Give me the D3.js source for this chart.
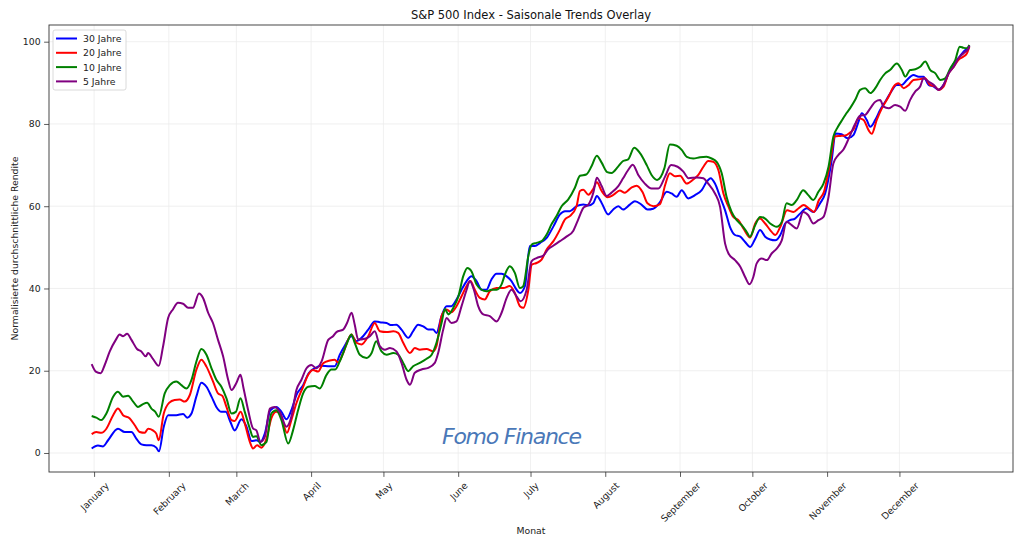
<!DOCTYPE html>
<html>
<head>
<meta charset="utf-8">
<script src="https://cdn.jsdelivr.net/npm/d3@7"></script>
<style>
  body { margin: 0; background: #fff; }
  text { font-family: "DejaVu Sans", sans-serif; }
</style>
</head>
<body>
<script>
'use strict';

// month ticks (day index of each month start)
let monthNames = ['January', 'February', 'March', 'April', 'May', 'June',
  'July', 'August', 'September', 'October', 'November', 'December'];
let monthDays = [1, 32, 60, 91, 121, 152, 182, 213, 244, 274, 305, 335];
let yTicks = [0, 20, 40, 60, 80, 100];

let seriesNames = ['30 Jahre', '20 Jahre', '10 Jahre', '5 Jahre'];

// [day, value]
let jahre30 = [[0,1.1],[2.6,1.8],[4.7,1.6],[6.8,3.1],[10.9,5.9],[13.7,5.1],[16.5,5.1],[18.5,3.5],[20.6,2.1],[22.7,1.9],[24.8,1.9],[26.8,1.3],[27.9,0.4],[29.9,6.4],[31.7,9.2],[35.1,9.2],[37.9,9.5],[39.6,8.6],[41.4,9.6],[43.4,13.7],[45.5,17.1],[47.6,16.1],[49.7,13.7],[51.7,11.2],[53.8,10],[55.6,10],[57.5,7.6],[59.3,5.5],[62.1,8.2],[64.2,6.4],[66.3,2.9],[68.3,3.1],[70,2.7],[71.8,4.7],[74.1,10.4],[76.6,11.2],[78.7,10],[80.8,8.2],[82.8,10.4],[84.9,14.1],[87.7,16.5],[90,19.4],[92.5,20.6],[95,21.2],[98.8,21.1],[100.8,21.1],[102.9,23.9],[104.9,26],[107.7,28.4],[109.8,27.2],[111.9,28],[114.7,30],[117.4,32],[119.5,31.8],[122.3,31.6],[124.3,31.1],[126.4,31.2],[128.5,30],[131.3,28],[133.3,29.6],[135.4,31.2],[137.5,30.8],[139.6,30],[141.6,30],[143,29.2],[145.1,33.3],[147.2,35.7],[149.2,35.7],[151.3,37.3],[153.4,39.7],[155.5,41.8],[157.5,43],[159.6,41.8],[161.7,39.7],[163.7,39.7],[165.8,42.2],[167.9,43.6],[170,43.6],[172,43],[174.1,41.8],[176.2,39.7],[177.6,38.9],[179.7,40.6],[181.7,50.3],[183.8,50.3],[186,51.1],[188.7,52.3],[191.5,55.1],[194.2,58],[196.3,58.8],[198.3,58.8],[201.1,60],[203.9,60.4],[206,60.2],[208.1,60.8],[209.5,62.5],[211.5,60.8],[214.2,58],[216.3,59.2],[218.4,60],[220.4,59.2],[223.2,60.4],[225.3,61.2],[228,60.4],[230.5,59.2],[232.9,59.4],[235.7,61],[238.5,63.5],[240.5,63.1],[242.6,62.3],[244.7,63.9],[247.4,61.9],[250.2,62.7],[253,63.9],[255,65.9],[256.7,66.8],[258.5,65.5],[260.6,62.3],[262.7,59],[264.7,55],[266.8,53],[269,52.6],[271,51.3],[273.1,50.1],[275.2,52.1],[277.2,54.2],[279.3,52.6],[281.4,51.9],[283.5,51.7],[285.6,53],[287.6,55.8],[289.6,56.6],[291.7,57],[293.8,58.2],[296.6,59.5],[299.3,58.6],[302.1,60.7],[304.2,63.1],[306.9,71.2],[308.5,77.7],[311,77.5],[313.5,76.5],[315.9,77.3],[318,80.5],[319.4,82.6],[321.4,81],[322.9,79.3],[325,81],[327,83.4],[329.1,85.4],[331.1,87.4],[333.9,89.5],[336,89.5],[338.1,90.7],[340.8,91.9],[343,91.5],[345,91.5],[347.1,89.5],[349.2,89.1],[351.2,88.3],[353.3,89.5],[355.4,92.3],[357.5,94.7],[359.5,96],[361.6,97.6],[363.7,98.7],[364,99]];

let jahre20 = [[0,4.6],[1.9,5.1],[4,4.9],[6.1,5.9],[8.9,9.2],[10.9,10.8],[13,9.2],[15.8,8.4],[17.8,6.8],[19.9,5.1],[22,4.9],[23.4,5.9],[25.4,5.5],[26.8,4.7],[27.8,3.1],[29.9,9.6],[32.1,12.2],[34.4,12.9],[36.5,13],[38.6,12.5],[40.7,14.1],[43.4,20.2],[45.5,22.7],[47.6,21],[50.3,17.4],[52.4,14.5],[54.2,13.9],[55.9,11.2],[58,8],[59.3,7.8],[61.8,10],[63.5,7.2],[65.6,2.7],[66.9,1.1],[68.6,1.9],[70.4,1.3],[72.5,3.5],[74.5,8.4],[76.6,10],[78.7,8.8],[81,4.9],[82.8,8],[84.9,12.1],[87.7,16.1],[89.8,19],[91.8,20.2],[93.9,19.8],[96,21.8],[98.8,22.5],[100.8,22.7],[102.2,22],[104.3,24.3],[107.7,28.8],[109.8,26.8],[111.9,26.4],[114.7,28.4],[117.4,31.6],[119.5,29.6],[122.3,29.4],[125.1,29.6],[127.1,29.2],[129.2,26.8],[132,24.3],[134,25.5],[136.1,25.1],[138.9,25.3],[141.6,24.7],[143,26],[145.1,33.3],[147.2,34.9],[149.2,34.2],[151.3,35.7],[153.4,38.1],[155.5,40.6],[157.1,41.8],[158.9,39.7],[161,37.7],[163,37.3],[165.1,39.3],[167.9,40.1],[170.7,40.1],[173.4,40.6],[175.5,38.9],[177.6,35.7],[179,35.3],[181.1,39.7],[182.5,45.8],[184.5,46.2],[186.6,47],[188.7,49.5],[191.5,51.5],[194.2,54.3],[196.3,56.8],[198.3,57.6],[201.1,60],[202.5,63.7],[203.9,64],[206,62.8],[208.1,64.3],[209.5,65.8],[211.5,63.7],[214,62.2],[216.5,62.8],[219,63.8],[221.1,63.3],[224,64.6],[226,65],[228.5,63.4],[230.5,60.7],[233,60],[235.7,60.5],[237.8,65.1],[239.8,68],[241.9,67.3],[244,67.4],[246.8,65.5],[249.5,66.5],[251.6,67.6],[253.7,69.6],[255.7,71],[257.8,70.8],[259.9,68.8],[262,63.1],[264.1,59.9],[266.1,57.4],[268.2,56.6],[270.3,54.6],[273.1,52.4],[275.2,55.8],[277.2,57],[279.3,55.8],[281.4,54.2],[283.5,53],[285.6,55],[288.4,59],[291.1,58.6],[293.2,59.5],[295.3,60.3],[297.4,59.5],[299.6,58.6],[301.6,61.5],[303.7,63.5],[306.2,70.4],[308.3,77],[310.4,77.1],[312.5,77.2],[314.5,77.9],[316,78.7],[318,81.4],[320.1,81],[322.2,78.5],[323.5,77.6],[325.6,81],[327.7,83.8],[330.5,86.6],[332.6,89.1],[334.6,89.9],[336.8,88.7],[338.9,89.5],[340.8,90.7],[343.6,90.9],[345.6,91.1],[347.7,89.5],[349.8,89.1],[351.2,88.3],[353.3,89.1],[355.4,92.3],[357.5,93.9],[359.5,95.6],[361.6,96.4],[363,97.2],[364,98.8]];

let jahre10 = [[0,9],[1.9,8.6],[4,8],[6.1,9.6],[8.9,13.7],[10.9,14.9],[13,13.7],[15.1,13.9],[17.2,12.5],[19.2,11.2],[21.3,11.9],[23,12.2],[24.8,10.8],[26.4,10],[27.8,8.8],[30.3,14.5],[32.4,16.5],[35.1,17.4],[37.2,16.5],[39.3,15.7],[41.4,17.8],[43.4,22.2],[45.5,25.3],[47.6,23.9],[49.7,20.6],[51.7,17.8],[53.8,16.1],[55.9,13.3],[58,9.6],[59.8,10],[61.7,13.3],[63.5,10],[65.6,5.9],[66.9,3.9],[68.3,4.1],[70.4,1.9],[72.5,2.7],[74.5,9.6],[76.6,10.4],[78.7,8],[81.5,2.3],[83.5,5.5],[85.6,10.4],[87.7,14.5],[89.8,16.1],[92.5,16.3],[94.6,15.7],[97.4,19],[99.4,20.3],[101,20.3],[102.9,22.3],[105.7,26.4],[107.7,28.8],[109.1,26.8],[111.2,23.9],[114,23.1],[116.1,24.3],[118,27.2],[120.2,24.7],[122.3,23.9],[125.1,24.3],[127.1,23.9],[129.2,21.9],[131.3,19.9],[133.3,21.1],[136.1,21.9],[138.9,22.9],[141,23.9],[143,26.8],[145.1,31.6],[146.5,35],[147.9,33.7],[150,35.3],[152.1,38.1],[154.1,43],[155.8,45],[157.5,44.2],[159.6,41],[161.7,39.7],[163.7,39.3],[165.8,39.7],[167.9,39.7],[170,41],[171.4,43.4],[173.4,45.4],[175.5,43.8],[177.6,40.1],[179,40.6],[181.1,47.9],[182.5,50.7],[184.5,51.1],[186.6,51.5],[188.7,53.1],[190.7,55.6],[192.8,57.6],[194.9,60],[197.6,61.6],[200.4,64.5],[202.5,67.4],[205.1,67.7],[207.3,69.7],[209.5,72.3],[211.5,70.6],[213.8,68.3],[215.6,68.1],[218.4,69.7],[220.4,71],[222.5,71.4],[225,74.2],[227.4,72.9],[230.2,70],[232.2,67.6],[234.5,66.4],[237.5,69.2],[239.8,75],[242.6,74.7],[244.7,73.7],[246.8,72],[249.5,71.6],[252.3,71.9],[255,72],[257.1,71.6],[259.2,70.8],[261.3,68],[263.3,62.3],[265.4,58.6],[267.5,56.6],[269.6,55.4],[271.6,53.8],[273,52.6],[275.2,55.4],[277.2,57.4],[279.3,57],[281.4,55.8],[284.1,55],[286.2,56.2],[288.2,60.7],[290.3,60.3],[292.4,61.5],[295.1,63.9],[297.2,62.7],[299.3,61.5],[301.4,63.5],[303.5,65.5],[305.6,69.6],[307.6,76.9],[309.5,79.3],[311.5,81.2],[313,82.6],[314.5,83.8],[316.6,85.8],[318.7,88.3],[320.8,88.7],[322.9,87.5],[325,88.7],[327,90.7],[329.1,92.3],[331.1,93.1],[333.9,94.7],[336,93.1],[337.4,91.5],[339.4,93.1],[341.6,93.3],[343.6,93.9],[345.7,95.2],[347.8,93.1],[349.9,92.3],[352,90.7],[354,91.1],[356.1,93.5],[358.2,95.6],[360,98.8],[361.6,98.5],[363,98.4],[364,99.2]];

let jahre5 = [[0,21.6],[1.7,19.8],[3.7,19.4],[5.4,21.4],[7.5,24.7],[10,27.5],[11.6,28.8],[13,28.4],[14.7,29],[16.5,27.5],[18.8,25.3],[20.6,24.7],[22.4,23.5],[23.4,24.3],[25.4,22.9],[27.8,21.2],[29.6,25.9],[31.7,32.8],[33.7,34.9],[35.8,36.5],[37.9,36.3],[40,35.3],[42,35.3],[44.5,38.8],[46.2,37.7],[48.3,34.1],[50.3,31.6],[52.4,27.5],[54.5,23.5],[56.6,17.8],[58,15.3],[60,17],[61.7,19],[63,15.7],[64.9,10.4],[66.9,6],[68.3,5.5],[70,2.7],[71.8,3.9],[73.9,10.8],[75.9,11.2],[78,10],[80.8,6.4],[82.8,8.8],[84.9,15.3],[87,17.8],[89.1,20.6],[91.1,21.4],[93.2,20.6],[95.3,22.2],[98.1,27.5],[100.1,28.4],[101.5,29.4],[104.3,30],[105.9,31.6],[107.8,34.1],[109.1,31.2],[110.5,27.6],[113.3,27.8],[115.4,28.4],[117.4,29.6],[119.5,26],[121.6,25.1],[123.7,25.5],[126.4,24.7],[128.5,21.9],[130.6,17.8],[132,16.6],[134,19.5],[136.8,20.3],[139.6,20.7],[142.3,21.9],[143.7,24.3],[145.8,30],[147.2,32.8],[149.2,31.6],[151.3,32],[153.4,35.7],[155.5,39.7],[156.8,41.8],[158.5,39.7],[160.3,35.7],[162.4,33.7],[165.1,33.3],[167.9,32],[170,34.1],[172.1,37.7],[174.1,39.7],[176.2,38.1],[177.9,36.9],[180.4,39.7],[182.4,46.6],[184.5,47.4],[187.3,48],[189.3,49.5],[191.4,50.4],[194.2,51.5],[196.9,52.6],[199.7,54],[201.8,56.8],[203.9,59.6],[206,60.4],[208.1,63.4],[209.5,66.9],[211.5,64.9],[213.6,62.5],[215.6,63.3],[218.4,64.9],[220.4,66.8],[222.5,68.8],[224.4,70.1],[226.7,67.6],[229.4,65.5],[232.2,64.3],[235,64.3],[237.8,67.2],[240.3,70],[243,69.6],[245.4,68.4],[247.5,66.8],[250.9,67],[253.7,66.8],[255.7,65.5],[258.5,63.1],[260.6,59.9],[262.7,50.9],[264.1,48.5],[266.8,46.9],[269,45.3],[271,42.8],[272.8,41],[274.4,42.8],[275.8,46.1],[277.9,47.3],[280,46.9],[282,48.5],[284.1,49.7],[286.2,51.7],[288.2,56.2],[290.3,55.4],[292.4,54.6],[295.1,58.6],[297.2,57.8],[299.3,55.8],[301.4,56.6],[303.5,57.4],[305.6,62.3],[307.6,70.4],[309.7,72.5],[311.8,73.8],[314,76.5],[316.6,80],[318.7,82],[320.8,82.2],[322.9,83.8],[325,85.4],[327,85.8],[328.4,84.2],[330.5,83.8],[333.2,84.6],[335.3,84.2],[337.4,83.2],[339.4,85.8],[341.6,87.9],[343.6,89.1],[345,91.1],[347.1,90.3],[349.2,89.5],[351.2,88.3],[353.3,89.5],[355.4,92.3],[357.5,93.9],[359.5,96],[361.6,97.2],[363.7,98.4],[364,99]];

let seriesValues = [jahre30, jahre20, jahre10, jahre5];
let seriesColors = ['#0000ff', '#ff0000', '#008000', '#800080'];

let width = 1024;
let height = 546;
let plotL = 49, plotR = 1013, plotT = 25, plotB = 472;

let x = d3.scaleLinear().domain([-17.7, 382.1]).range([plotL, plotR]);
let y = d3.scaleLinear().domain([-4.62, 104.06]).range([plotB, plotT]);

let svg = d3.select('body').append('svg')
    .attr('width', width)
    .attr('height', height);

// grid
svg.append('g').selectAll('line')
  .data(monthDays)
  .enter().append('line')
    .attr('x1', d => x(d)).attr('x2', d => x(d))
    .attr('y1', plotT).attr('y2', plotB)
    .attr('stroke', '#ececec').attr('stroke-width', 0.8);
svg.append('g').selectAll('line')
  .data(yTicks)
  .enter().append('line')
    .attr('x1', plotL).attr('x2', plotR)
    .attr('y1', d => y(d)).attr('y2', d => y(d))
    .attr('stroke', '#ececec').attr('stroke-width', 0.8);

// lines
let line = d3.line()
    .x(d => x(d[0]))
    .y(d => y(d[1]))
    .curve(d3.curveMonotoneX);

svg.append('g').selectAll('path')
  .data(seriesValues)
  .enter().append('path')
    .attr('d', line)
    .attr('fill', 'none')
    .attr('stroke', (d, i) => seriesColors[i])
    .attr('stroke-width', 2)
    .attr('stroke-linejoin', 'round');

// axes
let xAxis = svg.append('g')
    .attr('transform', `translate(0,${plotB})`)
    .call(d3.axisBottom(x).tickValues(monthDays)
      .tickFormat((d, i) => monthNames[i]).tickSize(4.9).tickPadding(3.5));
let yAxis = svg.append('g')
    .attr('transform', `translate(${plotL},0)`)
    .call(d3.axisLeft(y).tickValues(yTicks).tickSize(4.9).tickPadding(3.5));

[xAxis, yAxis].forEach(a => {
  a.select('.domain').remove();
  a.selectAll('line').attr('stroke', '#333').attr('stroke-width', 0.8);
  a.selectAll('text').attr('fill', '#222')
    .style('font-family', '"DejaVu Sans", sans-serif')
    .style('font-size', '9.3px');
});

// rotated month labels, centred on the tick like matplotlib
xAxis.selectAll('text').each(function() {
  let t = d3.select(this);
  let w = this.getComputedTextLength();
  let h = 9.3;
  let bh = (w + h) * Math.SQRT1_2;
  t.attr('y', null).attr('dy', null)
    .attr('text-anchor', 'middle')
    .attr('dominant-baseline', 'central')
    .attr('transform', `translate(0,${8.5 + bh / 2}) rotate(-45)`);
});

// frame
svg.append('rect')
    .attr('x', plotL).attr('y', plotT)
    .attr('width', plotR - plotL).attr('height', plotB - plotT)
    .attr('fill', 'none').attr('stroke', '#333').attr('stroke-width', 0.9);

// title and labels
svg.append('text')
    .attr('x', (plotL + plotR) / 2).attr('y', 19)
    .attr('text-anchor', 'middle')
    .style('font-size', '11.5px').attr('fill', '#111')
    .text('S&P 500 Index - Saisonale Trends Overlay');
svg.append('text')
    .attr('x', (plotL + plotR) / 2).attr('y', 534)
    .attr('text-anchor', 'middle')
    .style('font-size', '9.3px').attr('fill', '#222')
    .text('Monat');
svg.append('text')
    .attr('transform', `translate(18,${(plotT + plotB) / 2}) rotate(-90)`)
    .attr('text-anchor', 'middle')
    .style('font-size', '9.3px').attr('fill', '#222')
    .text('Normalisierte durchschnittliche Rendite');

// watermark
svg.append('text')
    .attr('x', 512).attr('y', 444)
    .attr('text-anchor', 'middle')
    .attr('textLength', 140)
    .style('font-size', '22px').style('font-style', 'italic')
    .style('font-family', '"DejaVu Sans", sans-serif')
    .style('font-weight', 300)
    .attr('fill', '#4a78b8')
    .text('Fomo Finance');

// legend
let legend = svg.append('g').attr('transform', 'translate(53,30)');
legend.append('rect')
    .attr('width', 73).attr('height', 60).attr('rx', 2)
    .attr('fill', '#fff').attr('fill-opacity', 0.85)
    .attr('stroke', '#d0d0d0').attr('stroke-width', 0.8);
let item = legend.selectAll('g')
  .data(seriesNames)
  .enter().append('g')
    .attr('transform', (d, i) => `translate(0,${8.5 + i * 14.3})`);
item.append('line')
    .attr('x1', 3).attr('x2', 24)
    .attr('stroke', (d, i) => seriesColors[i])
    .attr('stroke-width', 2);
item.append('text')
    .attr('x', 30)
    .attr('dominant-baseline', 'central')
    .style('font-size', '9.3px').attr('fill', '#222')
    .text(d => d);
</script>
</body>
</html>
